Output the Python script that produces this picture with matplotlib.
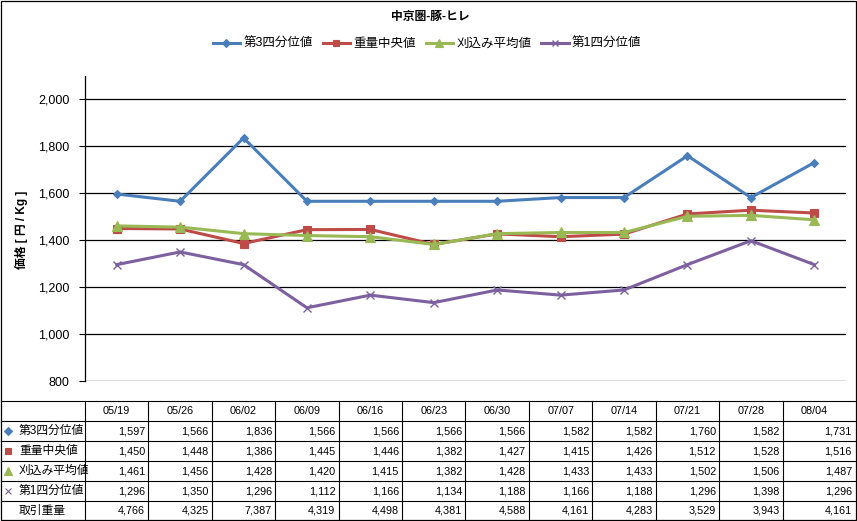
import matplotlib
matplotlib.use("Agg")
import matplotlib.pyplot as plt
import matplotlib.transforms as mtransforms
from matplotlib.lines import Line2D
from matplotlib.patches import Rectangle

plt.rcParams['font.family'] = ['Liberation Sans', 'Noto Sans CJK JP', 'DejaVu Sans']

# ---------------- data ----------------
title = "中京圏-豚-ヒレ"
ylabel = "価格 [ 円 / Kg ]"
dates = ["05/19", "05/26", "06/02", "06/09", "06/16", "06/23",
         "06/30", "07/07", "07/14", "07/21", "07/28", "08/04"]
q3 = [1597, 1566, 1836, 1566, 1566, 1566, 1566, 1582, 1582, 1760, 1582, 1731]
median_w = [1450, 1448, 1386, 1445, 1446, 1382, 1427, 1415, 1426, 1512, 1528, 1516]
trim_mean = [1461, 1456, 1428, 1420, 1415, 1382, 1428, 1433, 1433, 1502, 1506, 1487]
q1 = [1296, 1350, 1296, 1112, 1166, 1134, 1188, 1166, 1188, 1296, 1398, 1296]
volume = [4766, 4325, 7387, 4319, 4498, 4381, 4588, 4161, 4283, 3529, 3943, 4161]
series_names = ["第3四分位値", "重量中央値", "刈込み平均値", "第1四分位値"]
volume_name = "取引重量"
yticks = [800, 1000, 1200, 1400, 1600, 1800, 2000]

# ---------------- style ----------------
colors = ["#4A7EBB", "#BE4B48", "#98B954", "#7D60A0"]
markers = ["D", "s", "^", "x"]
msizes = [4.5, 5.8, 6.5, 5.5]

W, H = 857, 521
fig = plt.figure(figsize=(W / 100, H / 100), dpi=100)

def fx(px):
    return px / W

def fy(py):
    return 1 - py / H

ax = fig.add_axes([fx(85), fy(381), fx(846) - fx(85), fy(76) - fy(381)])
ax.set_xlim(-0.5, len(dates) - 0.5)
ax.set_ylim(800, 2100)

xs = list(range(len(dates)))
all_series = [q3, median_w, trim_mean, q1]
handles = []
for vals, name, c, m, ms in zip(all_series, series_names, colors, markers, msizes):
    ln, = ax.plot(xs, vals, color=c, lw=2.2, marker=m, markersize=ms,
                  markeredgecolor=c, markerfacecolor=c,
                  markeredgewidth=1.0 if m == "x" else 0.8, label=name,
                  solid_joinstyle="round", clip_on=False)
    handles.append(ln)

ax.set_yticks(yticks)
ax.set_yticklabels([f"{v:,}" for v in yticks], fontsize=9)
ax.set_xticks([])
ax.tick_params(axis="y", length=4, width=0.8, direction="out", pad=7, colors="black")
for t in yticks:
    ax.axhline(t, color="black", lw=0.9, zorder=0.5)
ax.spines["top"].set_visible(False)
ax.spines["right"].set_visible(False)
ax.spines["bottom"].set_visible(False)
ax.spines["left"].set_linewidth(0.9)

fig.text(fx(430), fy(17), title, ha="center", va="center", fontsize=8.5,
         fontweight="bold")
fig.text(fx(21), fy(230), ylabel, ha="center", va="center", rotation=90,
         fontsize=8.5, fontweight="bold")

fig.legend(handles=handles, loc="center", bbox_to_anchor=(fx(427), fy(44)),
           bbox_transform=fig.transFigure, ncol=4, frameon=False, fontsize=9,
           handlelength=2.2, handletextpad=0.25, columnspacing=0.8,
           markerscale=0.8)

# ---------------- data table ----------------
blend = mtransforms.blended_transform_factory(ax.transData, fig.transFigure)
row_edges = [400.5, 421, 441, 461, 481, 501, 520]
left_px, right_px = 0.5, 855.5

for yy in row_edges[:-1]:
    fig.add_artist(Line2D([fx(left_px), fx(right_px)], [fy(yy), fy(yy)],
                          transform=fig.transFigure, color="black", lw=0.8))
for k in range(len(dates)):
    ax.add_artist(Line2D([k - 0.5, k - 0.5], [fy(row_edges[0]), fy(row_edges[-1])],
                         transform=blend, color="black", lw=0.8, clip_on=False))
fig.add_artist(Rectangle((fx(left_px), fy(520)), fx(right_px) - fx(left_px),
                         fy(0.5) - fy(520), transform=fig.transFigure,
                         fill=False, edgecolor="black", lw=0.9))

def row_center(r):
    return fy((row_edges[r] + row_edges[r + 1]) / 2)

for i, d in enumerate(dates):
    ax.text(i, row_center(0), d, transform=blend, ha="center", va="center",
            fontsize=7.8)

table_rows = all_series + [volume]
row_names = series_names + [volume_name]
for r, (vals, name) in enumerate(zip(table_rows, row_names), start=1):
    yc = row_center(r)
    fig.text(fx(19), yc, name, ha="left", va="center", fontsize=8.5)
    if r <= 4:
        c = colors[r - 1]
        fig.add_artist(Line2D([fx(8)], [yc], transform=fig.transFigure,
                              marker=markers[r - 1], color=c,
                              markersize=msizes[r - 1] * 0.8,
                              markeredgewidth=0.8, linestyle="none"))
    for i, v in enumerate(vals):
        if i < len(vals) - 1:
            ax.text(i + 0.45, yc, f"{v:,}", transform=blend, ha="right",
                    va="center", fontsize=7.8)
        else:
            fig.text(fx(852), yc, f"{v:,}", ha="right", va="center",
                     fontsize=7.8)

fig.savefig("out.png", dpi=100)
